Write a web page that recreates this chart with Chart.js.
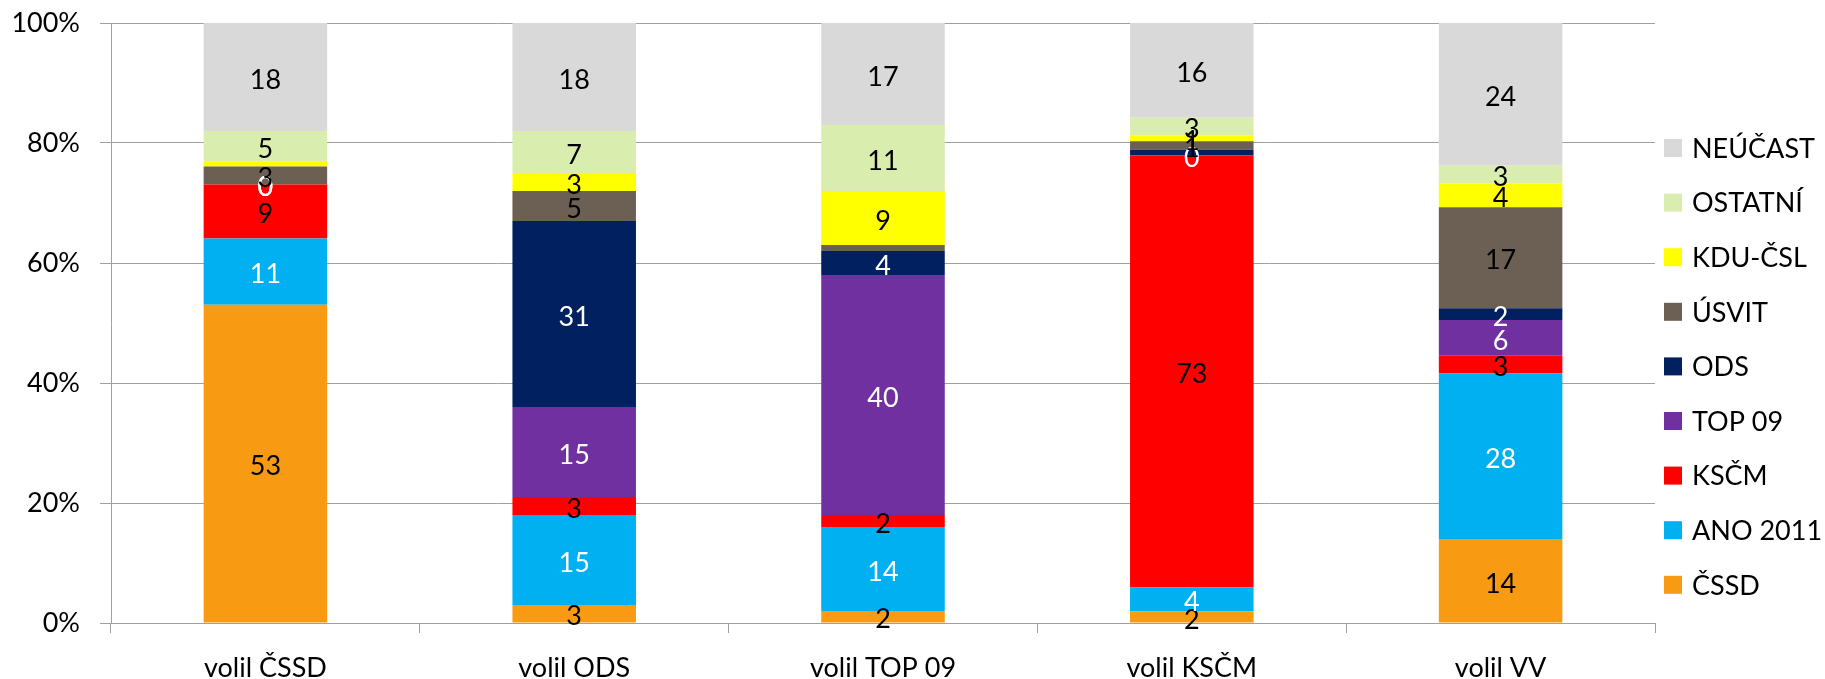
<!DOCTYPE html>
<html>
<head>
<meta charset="utf-8">
<script src="https://cdn.jsdelivr.net/npm/chart.js@4"></script>
<style>
  body { margin: 0; background: #fff; }
</style>
</head>
<body>
<canvas id="voteChart" width="1825" height="679"></canvas>
<script>
const categories = ["volil ČSSD", "volil ODS", "volil TOP 09", "volil KSČM", "volil VV"];

// values per party, one entry per category (Excel normalises each column to 100 %)
const cssd = [53, 3, 2, 2, 14];
const ano = [11, 15, 14, 4, 28];
const kscm = [9, 3, 2, 73, 3];
const top09 = [0, 15, 40, 0, 6];
const ods = [0, 31, 4, 1, 2];
const usvit = [3, 5, 1, 1.4, 17];
const kdu = [0.9, 3, 9, 1, 4];
const ostatni = [5, 7, 11, 3, 3];
const neucast = [18, 18, 17, 16, 24];

const yTicks = [0, 20, 40, 60, 80, 100];

// labels that were removed in the original chart: [series, category index]
const hiddenLabels = [["KDU-ČSL", 0], ["ÚSVIT", 2], ["ODS", 3]];

const series = [
  { label: "ČSSD", values: cssd, color: "#F89B12", text: "#000" },
  { label: "ANO 2011", values: ano, color: "#00B0F0", text: "#fff" },
  { label: "KSČM", values: kscm, color: "#FF0000", text: "#000" },
  { label: "TOP 09", values: top09, color: "#7030A0", text: "#fff" },
  { label: "ODS", values: ods, color: "#002060", text: "#fff" },
  { label: "ÚSVIT", values: usvit, color: "#6C5F53", text: "#000" },
  { label: "KDU-ČSL", values: kdu, color: "#FFFF00", text: "#000" },
  { label: "OSTATNÍ", values: ostatni, color: "#D9EDAF", text: "#000" },
  { label: "NEÚČAST", values: neucast, color: "#D9D9D9", text: "#000" },
];

const totals = categories.map((c, j) => series.reduce((s, d) => s + d.values[j], 0));

const font = { family: "Lato, 'Noto Sans', sans-serif", size: 27 };
const fontCss = "27px Lato, 'Noto Sans', sans-serif";
const gridGray = "#A0A0A0";

const segmentLabels = {
  id: "segmentLabels",
  afterDatasetsDraw(chart) {
    const ctx = chart.ctx;
    ctx.save();
    ctx.font = fontCss;
    ctx.textAlign = "center";
    ctx.textBaseline = "middle";
    chart.data.datasets.forEach((ds, i) => {
      chart.getDatasetMeta(i).data.forEach((bar, j) => {
        if (hiddenLabels.some((h) => h[0] === ds.label && h[1] === j)) return;
        ctx.fillStyle = ds.labelColor;
        ctx.fillText(Math.round(ds.raw[j]), bar.x, (bar.y + bar.base) / 2 + 3);
      });
    });
    ctx.restore();
  },
};

const sideLegend = {
  id: "sideLegend",
  afterDraw(chart) {
    const ctx = chart.ctx;
    const sets = chart.data.datasets.slice().reverse();
    ctx.save();
    ctx.font = fontCss;
    ctx.textBaseline = "middle";
    sets.forEach((ds, k) => {
      const y = 148 + k * 54.6;
      ctx.fillStyle = ds.backgroundColor;
      ctx.fillRect(1664, y - 9, 18, 18);
      ctx.fillStyle = "#000";
      ctx.fillText(ds.label, 1692, y + 1);
    });
    ctx.restore();
  },
};

new Chart(document.getElementById("voteChart"), {
  type: "bar",
  data: {
    labels: categories,
    datasets: series.map((s) => ({
      label: s.label,
      data: s.values.map((v, j) => (v / totals[j]) * 100),
      raw: s.values,
      backgroundColor: s.color,
      labelColor: s.text,
      borderWidth: 0,
      barPercentage: 0.4,
      categoryPercentage: 1,
    })),
  },
  options: {
    responsive: false,
    animation: false,
    layout: { padding: { top: 23, right: 170, bottom: 0, left: 0 } },
    plugins: {
      legend: { display: false },
      tooltip: { enabled: false },
    },
    scales: {
      x: {
        stacked: true,
        grid: { offset: true, drawOnChartArea: false, color: gridGray, tickLength: 10 },
        border: { color: gridGray },
        ticks: { font: font, color: "#000", padding: 19 },
        afterFit: (scale) => {
          scale.height = 56;
          scale.paddingLeft = 0;
          scale.paddingRight = 0;
        },
      },
      y: {
        stacked: true,
        min: 0,
        max: 100,
        afterBuildTicks: (scale) => {
          scale.ticks = yTicks.map((v) => ({ value: v }));
        },
        ticks: { font: font, color: "#000", padding: 20, callback: (v) => v + "%" },
        grid: { color: gridGray, tickLength: 11 },
        border: { color: gridGray },
        afterFit: (scale) => {
          scale.width = 111;
          scale.paddingTop = 0;
          scale.paddingBottom = 0;
        },
      },
    },
  },
  plugins: [segmentLabels, sideLegend],
});
</script>
</body>
</html>
